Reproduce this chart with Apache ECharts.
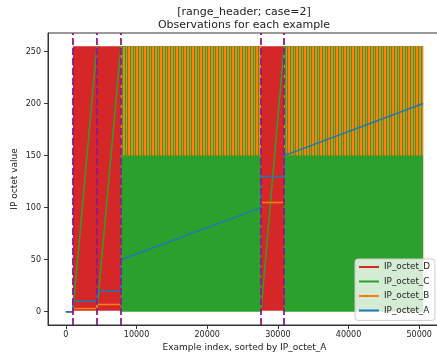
<!DOCTYPE html>
<html>
<head>
<meta charset="utf-8">
<script src="https://cdn.jsdelivr.net/npm/echarts@6/dist/echarts.min.js"></script>
<style>
html, body { margin: 0; padding: 0; background: #fff; }
#chart { width: 437px; height: 356px; }
</style>
</head>
<body>
<div id="chart"></div>
<script>
// range boundaries (purple dashed lines), in example index
var rangeBounds = [990, 4390, 7790, 27620, 30880];
var xTicks = [0, 10000, 20000, 30000, 40000, 50000];
var yTicks = [0, 50, 100, 150, 200, 250];

// dense noisy regions drawn as envelopes: [xStart, xEnd, low, high]
var octetD_bands = [[990, 7790, 1, 255], [7790, 27620, 1, 255], [27620, 30880, 1, 255], [30880, 50560, 1, 255]];
var octetC_bands = [[7790, 27620, 0, 255], [30880, 50560, 0, 255]];
var octetB_bands = [[7790, 27620, 150, 255], [30880, 50560, 150, 255]];

// plain line pieces
var octetD_lines = [[[0, 0], [990, 0]]];
var octetC_lines = [
	[[0, 0], [990, 0]],
	[[990, 0], [4390, 255]],
	[[4390, 0], [7790, 255]],
	[[27620, 0], [30880, 255]]
];
var octetB_lines = [
	[[0, 0], [990, 0], [990, 3], [4390, 3], [4390, 7], [7790, 7]],
	[[27620, 105], [30880, 105]]
];
var octetA_lines = [
	[[0, 0], [990, 0], [990, 10], [4390, 10], [4390, 20], [7790, 20], [7790, 50],
	 [27620, 100], [27620, 130], [30880, 130], [30880, 150], [50560, 200]]
];

var RED = "#d62728", GREEN = "#2ca02c", ORANGE = "#ff7f0e", BLUE = "#1f77b4";

// orange with thin gaps so the green underneath shows through as stripes
function stripePattern(color) {
	var c = document.createElement("canvas");
	c.width = 8;
	c.height = 1;
	var ctx = c.getContext("2d");
	ctx.fillStyle = color;
	ctx.fillRect(0, 0, 2, 1);
	ctx.fillRect(3, 0, 2, 1);
	ctx.fillRect(6, 0, 1, 1);
	return { image: c, repeat: "repeat" };
}

function bandSeries(name, bands, fill) {
	return {
		name: name,
		type: "custom",
		clip: true,
		data: bands,
		encode: { x: [0, 1], y: [2, 3] },
		renderItem: function(params, api) {
			var p0 = api.coord([api.value(0), api.value(3)]);
			var p1 = api.coord([api.value(1), api.value(2)]);
			return {
				type: "rect",
				shape: { x: p0[0], y: p0[1], width: p1[0] - p0[0], height: p1[1] - p0[1] },
				style: { fill: fill }
			};
		},
		silent: true
	};
}

function lineSeries(name, pts, color) {
	return {
		name: name,
		type: "line",
		data: pts,
		showSymbol: false,
		symbol: "none",
		lineStyle: { color: color, width: 1.5 },
		itemStyle: { color: color },
		animation: false,
		silent: true
	};
}

var series = [];
series.push(bandSeries("IP_octet_D", octetD_bands, RED));
octetD_lines.forEach(function(p) { series.push(lineSeries("IP_octet_D", p, RED)); });
series.push(bandSeries("IP_octet_C", octetC_bands, GREEN));
octetC_lines.forEach(function(p) { series.push(lineSeries("IP_octet_C", p, GREEN)); });
series.push(bandSeries("IP_octet_B", octetB_bands, stripePattern(ORANGE)));
octetB_lines.forEach(function(p) { series.push(lineSeries("IP_octet_B", p, ORANGE)); });
octetA_lines.forEach(function(p) { series.push(lineSeries("IP_octet_A", p, BLUE)); });

// boundaries on top of everything
series.push({
	type: "line",
	data: [],
	silent: true,
	markLine: {
		silent: true,
		symbol: "none",
		animation: false,
		label: { show: false },
		lineStyle: { color: "#8e1a8e", width: 1.8, type: [7, 3] },
		data: rangeBounds.map(function(v) { return { xAxis: v }; })
	},
	z: 5
});

var chart = echarts.init(document.getElementById("chart"), null, { renderer: "canvas" });

var textColor = "#222";
var fontFam = "DejaVu Sans";

chart.setOption({
	animation: false,
	backgroundColor: "#fff",
	title: {
		text: "[range_header; case=2]\nObservations for each example",
		left: 244,
		top: 5.5,
		padding: 0,
		textAlign: "center",
		textStyle: { fontFamily: fontFam, fontSize: 11, fontWeight: "normal", color: textColor, lineHeight: 13 }
	},
	legend: {
		orient: "vertical",
		left: 355,
		top: 259,
		padding: [2.75, 5, 4.65, 4],
		itemGap: 4,
		itemWidth: 20,
		itemHeight: 2,
		icon: "rect",
		selectedMode: false,
		backgroundColor: "rgba(255,255,255,0.8)",
		borderColor: "#cccccc",
		borderWidth: 1,
		borderRadius: 3,
		textStyle: { fontFamily: fontFam, fontSize: 8.8, color: textColor, lineHeight: 10.5 },
		data: [
			{ name: "IP_octet_D", itemStyle: { color: RED } },
			{ name: "IP_octet_C", itemStyle: { color: GREEN } },
			{ name: "IP_octet_B", itemStyle: { color: ORANGE } },
			{ name: "IP_octet_A", itemStyle: { color: BLUE } }
		]
	},
	grid: {
		left: 48,
		top: 33,
		width: 393,
		height: 292,
		outerBoundsMode: "none",
		containLabel: false,
		show: true,
		borderColor: "#333",
		borderWidth: 1,
		backgroundColor: "transparent"
	},
	xAxis: {
		type: "value",
		min: -2528,
		max: 53088,
		name: "Example index, sorted by IP_octet_A",
		nameLocation: "middle",
		nameMoveOverlap: false,
		nameGap: 18,
		nameTextStyle: { fontFamily: fontFam, fontSize: 9, color: textColor },
		splitLine: { show: false },
		axisLine: { show: true, onZero: false, lineStyle: { color: "#333", width: 1 } },
		axisTick: { show: true, length: 4, lineStyle: { color: "#333" }, customValues: xTicks },
		axisLabel: {
			fontFamily: fontFam, fontSize: 8, color: textColor, margin: 6, customValues: xTicks,
			formatter: function(v) { return String(v); }
		}
	},
	yAxis: {
		type: "value",
		min: -12.75,
		max: 267.75,
		name: "IP octet value",
		nameLocation: "middle",
		nameMoveOverlap: false,
		nameGap: 29,
		nameTextStyle: { fontFamily: fontFam, fontSize: 9, color: textColor },
		splitLine: { show: false },
		axisLine: { show: true, onZero: false, lineStyle: { color: "#333", width: 1 } },
		axisTick: { show: true, length: 4, lineStyle: { color: "#333" }, customValues: yTicks },
		axisLabel: {
			fontFamily: fontFam, fontSize: 8, color: textColor, margin: 7, customValues: yTicks,
			formatter: function(v) { return String(v); }
		}
	},
	series: series
});
</script>
</body>
</html>
